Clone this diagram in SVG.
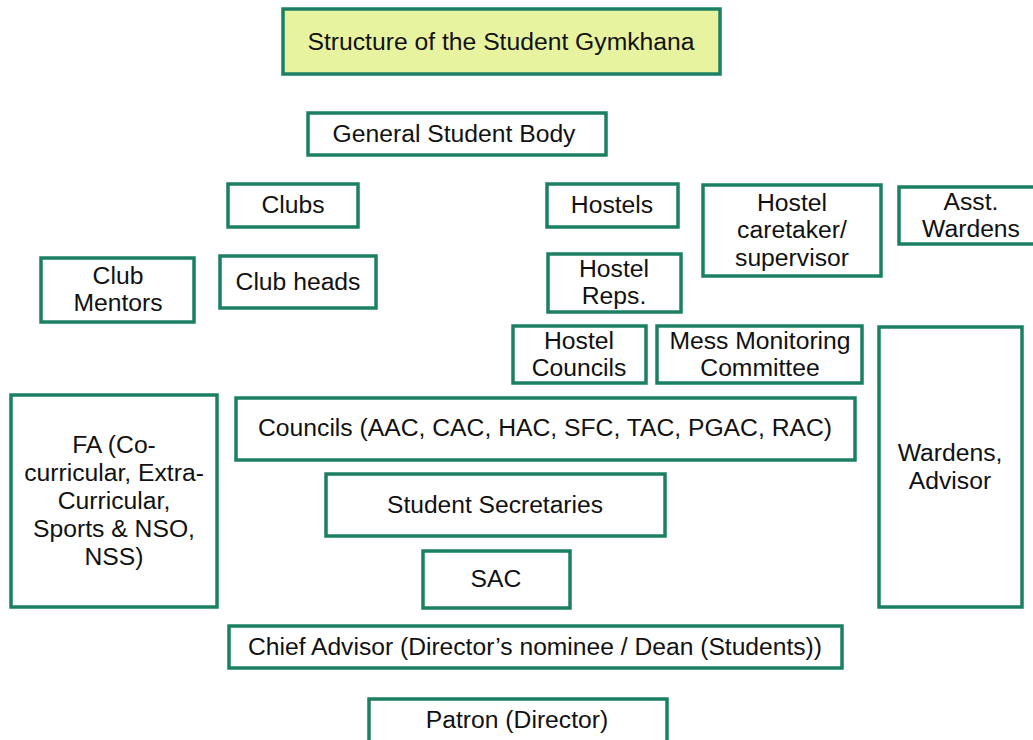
<svg xmlns="http://www.w3.org/2000/svg" width="1033" height="740" viewBox="0 0 1033 740">
<style>
rect.n{fill:#ffffff;stroke:#1b8063;stroke-width:3.5}
rect.t{fill:#e8f3a0;stroke:#1b8063;stroke-width:3.5}
text{font-family:"Liberation Sans",Arial,sans-serif;font-size:24.7px;fill:#111;text-anchor:middle}
</style>
<rect width="1033" height="740" fill="#ffffff"/>
<g id="title"><rect class="t" x="283" y="9" width="437" height="65"/><text x="501" y="50">Structure of the Student Gymkhana</text></g>
<g id="gsb"><rect class="n" x="308" y="113" width="298" height="42"/><text x="454" y="142">General Student Body</text></g>
<g id="clubs"><rect class="n" x="228" y="184" width="130" height="43"/><text x="293" y="213">Clubs</text></g>
<g id="clubmentors"><rect class="n" x="41" y="258" width="153" height="64"/><text x="118" y="284">Club</text><text x="118" y="311">Mentors</text></g>
<g id="clubheads"><rect class="n" x="220" y="256" width="156" height="52"/><text x="298" y="290">Club heads</text></g>
<g id="hostels"><rect class="n" x="547" y="184" width="131" height="43"/><text x="612" y="213">Hostels</text></g>
<g id="caretaker"><rect class="n" x="703" y="185" width="178" height="91"/><text x="792" y="211">Hostel</text><text x="792" y="238">caretaker/</text><text x="792" y="266">supervisor</text></g>
<g id="asstwardens"><rect class="n" x="899" y="187" width="140" height="57"/><text x="971" y="210">Asst.</text><text x="971" y="237">Wardens</text></g>
<g id="hostelreps"><rect class="n" x="548" y="254" width="133" height="58"/><text x="614" y="277">Hostel</text><text x="614" y="304">Reps.</text></g>
<g id="hostelcouncils"><rect class="n" x="513" y="326" width="133" height="57"/><text x="579" y="349">Hostel</text><text x="579" y="376">Councils</text></g>
<g id="mmc"><rect class="n" x="657" y="326" width="205" height="57"/><text x="760" y="349">Mess Monitoring</text><text x="760" y="376">Committee</text></g>
<g id="wardens"><rect class="n" x="879" y="327" width="143" height="280"/><text x="950" y="461">Wardens,</text><text x="950" y="489">Advisor</text></g>
<g id="fa"><rect class="n" x="11" y="395" width="206" height="212"/><text x="114" y="453">FA (Co-</text><text x="114" y="481">curricular, Extra-</text><text x="114" y="509">Curricular,</text><text x="114" y="537">Sports &amp; NSO,</text><text x="114" y="565">NSS)</text></g>
<g id="councils"><rect class="n" x="236" y="398" width="619" height="62"/><text x="545" y="436" textLength="574" lengthAdjust="spacingAndGlyphs">Councils (AAC, CAC, HAC, SFC, TAC, PGAC, RAC)</text></g>
<g id="secretaries"><rect class="n" x="326" y="474" width="339" height="62"/><text x="495" y="513" textLength="216" lengthAdjust="spacingAndGlyphs">Student Secretaries</text></g>
<g id="sac"><rect class="n" x="423" y="551" width="147" height="57"/><text x="496" y="587">SAC</text></g>
<g id="chief"><rect class="n" x="229" y="626" width="613" height="42"/><text x="535" y="655" textLength="574" lengthAdjust="spacingAndGlyphs">Chief Advisor (Director’s nominee / Dean (Students))</text></g>
<g id="patron"><rect class="n" x="369" y="699" width="298" height="50"/><text x="517" y="728">Patron (Director)</text></g>
<g id="connectors"></g>
</svg>
